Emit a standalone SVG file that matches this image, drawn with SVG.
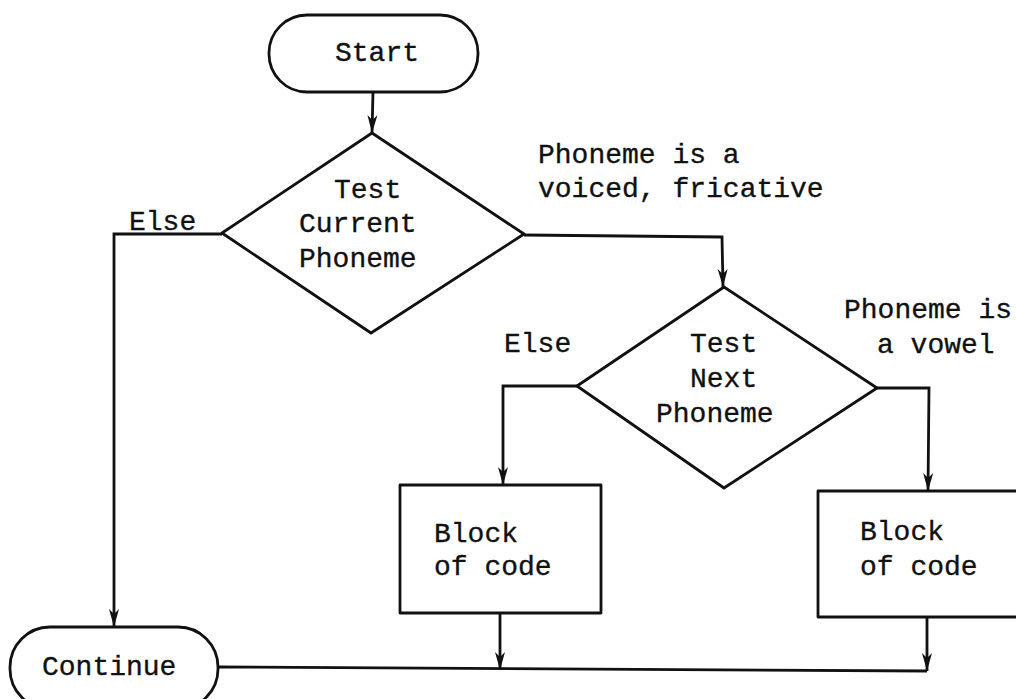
<svg xmlns="http://www.w3.org/2000/svg" width="1016" height="699" viewBox="0 0 1016 699">
  <style>
    .shape { fill: #ffffff; stroke: #111111; stroke-width: 2.8; stroke-linejoin: round; }
    .wire { fill: none; stroke: #111111; stroke-width: 2.8; stroke-linejoin: miter; }
    .label { font-family: "Liberation Mono", "DejaVu Sans Mono", monospace; font-size: 28px; fill: #111111; stroke: #111111; stroke-width: 0.35; }
  </style>
  <defs>
    <!-- narrow pen-drawn arrowhead, pointing along +x -->
    <marker id="arrow" markerUnits="userSpaceOnUse" markerWidth="20" markerHeight="12" viewBox="0 0 20 12" refX="19" refY="6" orient="auto">
      <path d="M1,1 L19,6 L1,11 L6,6 Z" fill="#111111"/>
    </marker>
  </defs>
  <rect width="1016" height="699" fill="#ffffff"/>

  <!-- connectors -->
  <g id="connectors">
    <path class="wire" d="M373,92 L372,133" marker-end="url(#arrow)"/>
    <path class="wire" d="M222,234 L114,234 L114,627" marker-end="url(#arrow)"/>
    <path class="wire" d="M524,235 L722,237 L723,287" marker-end="url(#arrow)"/>
    <path class="wire" d="M577,386 L503,386 L503,485" marker-end="url(#arrow)"/>
    <path class="wire" d="M877,388 L929,388 L928,491" marker-end="url(#arrow)"/>
    <path class="wire" d="M500,613 L500,670" marker-end="url(#arrow)"/>
    <path class="wire" d="M927,617 L927,671" marker-end="url(#arrow)"/>
    <path class="wire" d="M218,667 L927,671"/>
  </g>

  <!-- terminal: Start -->
  <g id="start">
    <rect class="shape" x="269" y="15" width="209" height="77" rx="38" ry="38"/>
    <text class="label" x="335" y="61">Start</text>
  </g>

  <!-- decision: current phoneme -->
  <g id="test-current">
    <polygon class="shape" points="372,133 524,234 371,333 222,233"/>
    <text class="label" x="334" y="198">Test</text>
    <text class="label" x="299" y="232">Current</text>
    <text class="label" x="299" y="267">Phoneme</text>
  </g>

  <!-- decision: next phoneme -->
  <g id="test-next">
    <polygon class="shape" points="724,287 877,388 724,488 577,386"/>
    <text class="label" x="690" y="352">Test</text>
    <text class="label" x="690" y="387">Next</text>
    <text class="label" x="656" y="422">Phoneme</text>
  </g>

  <!-- process blocks -->
  <g id="block-left">
    <rect class="shape" x="400" y="485" width="201" height="128"/>
    <text class="label" x="434" y="542">Block</text>
    <text class="label" x="434" y="575">of code</text>
  </g>
  <g id="block-right">
    <rect class="shape" x="818" y="491" width="215" height="126"/>
    <text class="label" x="860" y="540">Block</text>
    <text class="label" x="860" y="575">of code</text>
  </g>

  <!-- terminal: Continue -->
  <g id="continue">
    <rect class="shape" x="10" y="627" width="208" height="82" rx="40" ry="40"/>
    <text class="label" x="42" y="675">Continue</text>
  </g>

  <!-- branch labels -->
  <g id="branch-labels">
    <text class="label" x="129" y="230">Else</text>
    <text class="label" x="538" y="163">Phoneme is a</text>
    <text class="label" x="538" y="197">voiced, fricative</text>
    <text class="label" x="504" y="352">Else</text>
    <text class="label" x="844" y="318">Phoneme is</text>
    <text class="label" x="877" y="353">a vowel</text>
  </g>
</svg>
